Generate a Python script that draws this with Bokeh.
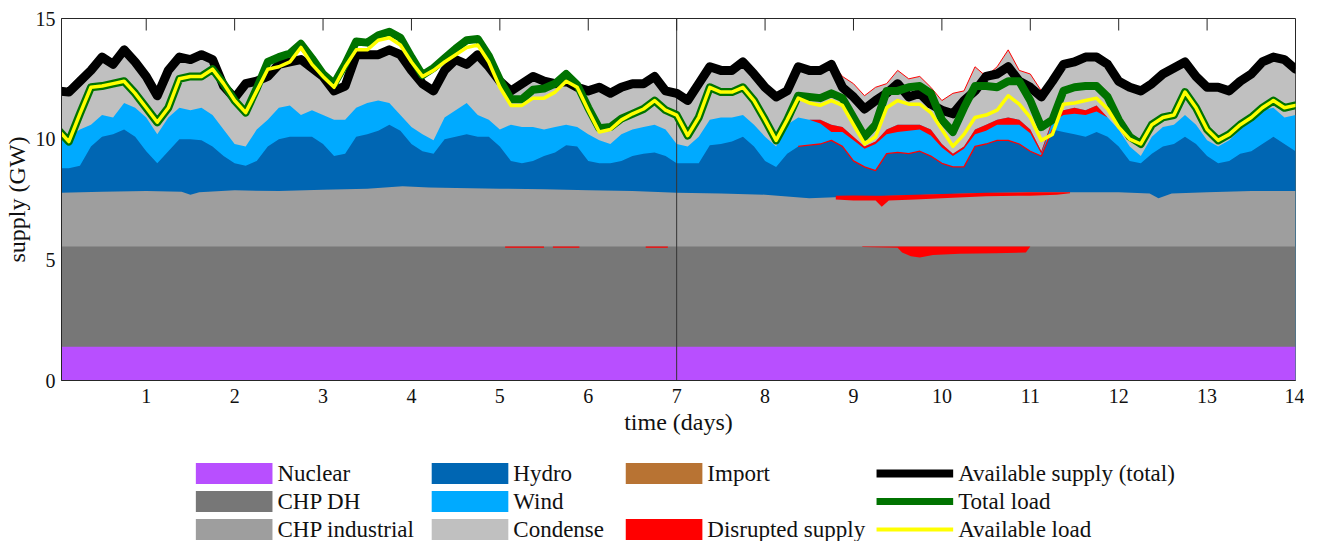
import numpy as np
from bokeh.plotting import figure
from bokeh.models import Range1d, FixedTicker
from bokeh.layouts import column
from bokeh.embed import file_html
from bokeh.resources import INLINE
from bokeh.core.properties import value

FONT = "Liberation Serif"

# ---------------- data (3-hourly samples, 0 .. 14 days) ----------------
days = [k / 8 for k in range(113)]

avail_supply = [12.0, 11.95, 12.4, 12.85, 13.4, 13.1, 13.7, 13.2, 12.6, 11.8, 12.85, 13.4, 13.3, 13.5, 13.3, 12.2,
                11.7, 12.3, 12.4, 12.6, 13.1, 13.2, 13.3, 12.95, 12.6, 12.0, 12.2, 13.5, 13.5, 13.5, 13.7, 13.5,
                12.85, 12.3, 12.0, 12.85, 13.3, 13.1, 13.5, 13.0, 12.4, 12.0, 12.3, 12.6, 12.4, 12.3, 12.4, 12.15,
                12.0, 12.15, 11.9, 12.15, 12.3, 12.3, 12.6, 12.0, 11.9, 11.6, 12.3, 13.0, 12.85, 12.85, 13.2, 12.7,
                12.15, 11.75, 12.0, 13.0, 12.85, 12.85, 13.1, 12.15, 11.75, 11.25, 11.6, 11.9, 12.3, 11.75, 11.9, 11.45,
                11.2, 11.05, 11.6, 12.0, 12.6, 12.7, 13.0, 12.4, 12.15, 11.75, 12.4, 13.1, 13.2, 13.4, 13.4, 13.1,
                12.4, 12.15, 12.0, 12.3, 12.7, 12.95, 13.2, 12.6, 12.15, 12.15, 12.0, 12.4, 12.7, 13.2, 13.4, 13.3,
                12.9]

total_load = [10.4, 9.9, 11.05, 12.15, 12.2, 12.3, 12.4, 11.9, 11.3, 10.7, 11.3, 12.5, 12.6, 12.6, 12.9, 12.3,
              11.6, 11.1, 12.1, 13.2, 13.4, 13.55, 13.95, 13.35, 12.7, 12.3, 13.1, 14.05, 14.0, 14.3, 14.45, 14.2,
              13.4, 12.65, 12.95, 13.35, 13.75, 14.1, 14.15, 13.45, 12.45, 11.65, 11.65, 12.05, 12.1, 12.3, 12.7, 12.25,
              11.3, 10.45, 10.5, 10.85, 11.05, 11.25, 11.6, 11.2, 11.0, 10.15, 10.9, 12.15, 11.95, 11.95, 12.15, 11.6,
              10.8, 9.95, 10.8, 11.8, 11.75, 11.7, 11.9, 11.7, 10.9, 10.1, 10.6, 12.0, 12.0, 12.15, 12.2, 11.9,
              10.8, 10.3, 11.3, 12.2, 12.2, 12.15, 12.4, 12.4, 11.6, 10.5, 10.8, 12.0, 12.15, 12.2, 12.2, 11.75,
              10.8, 10.1, 9.8, 10.6, 10.9, 11.0, 11.95, 11.3, 10.4, 9.95, 10.2, 10.6, 10.9, 11.3, 11.6, 11.3,
              11.4]

avail_load = [10.4, 9.9, 11.05, 12.15, 12.2, 12.3, 12.4, 11.9, 11.3, 10.7, 11.3, 12.5, 12.6, 12.6, 12.9, 12.3,
              11.6, 11.1, 12.0, 12.9, 13.0, 13.2, 13.8, 13.1, 12.6, 12.15, 13.0, 13.7, 13.7, 14.1, 14.2, 13.9,
              13.2, 12.6, 12.85, 13.2, 13.5, 13.8, 13.9, 13.2, 12.15, 11.4, 11.4, 11.7, 11.7, 11.95, 12.4, 12.15,
              11.2, 10.3, 10.4, 10.8, 11.05, 11.25, 11.6, 11.2, 11.0, 10.15, 10.9, 12.15, 11.95, 11.95, 12.15, 11.6,
              10.8, 9.95, 10.8, 11.7, 11.5, 11.4, 11.6, 11.4, 10.6, 9.8, 10.1, 11.3, 11.6, 11.45, 11.45, 11.1,
              10.4, 9.7, 10.2, 10.9, 11.0, 11.2, 11.8, 11.45, 10.9, 9.95, 10.2, 11.45, 11.5, 11.6, 11.7, 11.25,
              10.5, 10.0, 9.8, 10.6, 10.9, 11.0, 11.95, 11.3, 10.4, 9.95, 10.2, 10.6, 10.9, 11.3, 11.6, 11.3,
              11.4]

# cumulative top of each stacked layer (GW)
condense_top = [12.0, 11.95, 12.4, 12.85, 13.4, 13.1, 13.7, 13.2, 12.6, 11.8, 12.85, 13.4, 13.3, 13.5, 13.3, 12.2,
                11.7, 12.3, 12.4, 12.6, 13.1, 13.2, 13.3, 12.95, 12.6, 12.0, 12.2, 13.5, 13.5, 13.5, 13.7, 13.5,
                12.85, 12.3, 12.0, 12.85, 13.3, 13.1, 13.5, 13.0, 12.4, 12.0, 12.3, 12.6, 12.4, 12.3, 12.4, 12.15,
                12.0, 12.15, 11.9, 12.15, 12.3, 12.3, 12.6, 12.0, 11.9, 11.6, 12.3, 13.0, 12.85, 12.85, 13.2, 12.7,
                12.15, 11.75, 12.0, 13.0, 12.85, 13.0, 13.2, 12.6, 12.3, 11.8, 12.15, 12.3, 12.85, 12.5, 12.6, 12.15,
                11.6, 11.9, 12.0, 13.0, 12.6, 13.0, 13.7, 12.85, 12.7, 12.0, 12.5, 13.2, 13.3, 13.4, 13.4, 13.1,
                12.4, 12.15, 12.0, 12.3, 12.7, 12.95, 13.2, 12.6, 12.15, 12.15, 12.0, 12.4, 12.7, 13.2, 13.4, 13.3,
                12.9]

wind_top = [10.1, 10.1, 10.4, 10.6, 11.0, 10.9, 11.5, 11.3, 10.9, 10.2, 10.9, 11.3, 11.2, 11.3, 11.0, 10.4,
            9.8, 9.7, 10.4, 10.8, 11.3, 11.4, 11.0, 11.2, 11.0, 10.8, 10.8, 11.3, 11.5, 11.6, 11.5, 11.0,
            10.5, 10.2, 9.95, 10.9, 11.2, 11.5, 11.0, 10.8, 10.4, 10.6, 10.5, 10.5, 10.4, 10.5, 10.6, 10.5,
            10.2, 9.95, 9.8, 10.2, 10.4, 10.5, 10.6, 10.4, 9.8, 9.7, 10.1, 10.8, 10.9, 10.9, 11.0, 10.6,
            10.1, 9.7, 10.6, 10.9, 10.8, 10.8, 10.6, 10.5, 10.1, 9.7, 9.9, 10.4, 10.6, 10.6, 10.6, 10.4,
            9.8, 9.4, 9.7, 10.4, 10.6, 10.8, 10.9, 10.8, 10.4, 9.5, 10.8, 11.2, 11.3, 11.2, 11.4, 10.9,
            10.4, 9.7, 9.3, 10.1, 10.5, 10.6, 11.0, 10.6, 9.95, 9.7, 9.95, 10.4, 10.8, 11.2, 11.3, 10.9,
            11.0]

hydro_top = [8.8, 8.8, 8.9, 9.7, 10.1, 10.2, 10.4, 10.1, 9.5, 9.0, 9.5, 10.0, 10.0, 9.95, 9.7, 9.3,
             9.0, 8.9, 9.1, 9.7, 10.0, 10.1, 10.1, 10.1, 9.8, 9.3, 9.4, 10.1, 10.2, 10.35, 10.6, 10.35,
             9.8, 9.5, 9.4, 10.0, 10.1, 10.2, 10.1, 10.1, 9.7, 9.1, 9.0, 9.1, 9.3, 9.45, 9.75, 9.7,
             9.1, 9.0, 9.0, 9.1, 9.3, 9.4, 9.45, 9.3, 9.0, 9.0, 9.0, 9.75, 9.8, 9.9, 10.1, 9.7,
             9.1, 8.85, 9.4, 9.7, 9.75, 9.8, 9.95, 9.7, 9.1, 8.85, 8.7, 9.4, 9.45, 9.4, 9.5, 9.3,
             9.0, 8.85, 8.85, 9.7, 9.8, 9.95, 9.95, 9.8, 9.5, 9.3, 10.4, 10.3, 10.2, 10.1, 10.3, 10.1,
             9.7, 9.1, 9.0, 9.4, 9.7, 9.8, 10.1, 9.8, 9.3, 9.0, 9.1, 9.4, 9.5, 9.8, 10.1, 9.8,
             9.5]

ind_days = [0, 0.5, 1.0, 1.4, 1.5, 1.6, 2.0, 2.5, 3.0, 3.5, 3.9, 4.2, 4.5, 5.0, 5.5, 6.0, 6.5,
            7.0, 7.5, 8.0, 8.5, 9.0, 9.5, 10.0, 10.5, 11.0, 11.5, 12.0, 12.35, 12.45, 12.6, 13.0, 13.5, 14.0]
chp_ind_top = [7.78, 7.82, 7.85, 7.82, 7.7, 7.8, 7.88, 7.85, 7.9, 7.95, 8.05, 8.0, 7.98, 7.95, 7.92, 7.88, 7.85,
               7.78, 7.75, 7.7, 7.55, 7.62, 7.66, 7.72, 7.77, 7.8, 7.8, 7.8, 7.75, 7.55, 7.75, 7.8, 7.85, 7.85]
chp_dh_top = 5.55
nuclear_top = 1.4

# disrupted supply
dis_wind = [0.0, 0.15, 0.3, 0.2, 0.15, 0.1, 0.1, 0.2, 0.3, 0.25, 0.2, 0.25, 0.15, 0.1, 0.1, 0.2,
            0.25, 0.2, 0.3, 0.2, 0.15, 0.1, 0.1, 0.2, 0.25, 0.2, 0.25, 0.0]          # days[68:96]
dis_ind_days = [8.8, 9.0, 9.25, 9.32, 9.4, 9.7, 10.0, 10.5, 11.0, 11.3, 11.45]
dis_ind_hi = [7.66, 7.67, 7.66, 7.66, 7.67, 7.7, 7.73, 7.78, 7.8, 7.8, 7.8]
dis_ind_lo = [7.5, 7.46, 7.46, 7.2, 7.46, 7.5, 7.55, 7.63, 7.66, 7.7, 7.76]
dis_dh_days = [9.1, 9.5, 9.55, 9.65, 9.75, 9.9, 10.2, 10.6, 10.95, 11.0]
dis_dh_lo = [5.53, 5.5, 5.3, 5.15, 5.1, 5.2, 5.25, 5.27, 5.3, 5.55]
dis_dh_small_start = [5.06, 5.6, 6.65]
dis_dh_small_end = [5.5, 5.9, 6.9]
dis_dh_small = 0.05

x_ticks = list(range(1, 15))
y_ticks = [0, 5, 10, 15]
split_day = 7

C_NUC = "#B84FFF"
C_DH = "#777777"
C_IND = "#9E9E9E"
C_HYD = "#0066B3"
C_WIND = "#00AAFF"
C_COND = "#C0C0C0"
C_IMP = "#B87333"
C_DIS = "#FF0000"
C_SUP = "#000000"
C_LOAD = "#007300"
C_ALOAD = "#FFFF00"
AX = "#262626"

W = 1304
BL, BR = 55, 9
X0, X1 = 1 / 24, 14
Y0, Y1 = 0, 15
BT, BB = 18, 61
H_MAIN = BT + 362 + BB
H_LEG = 100

p = figure(width=W, height=H_MAIN, x_range=Range1d(X0, X1), y_range=Range1d(Y0, Y1),
           output_backend="svg", toolbar_location=None,
           min_border_left=BL, min_border_right=BR, min_border_top=BT, min_border_bottom=BB)
p.background_fill_color = "white"
p.border_fill_color = "white"
p.xgrid.visible = False
p.ygrid.visible = False
p.outline_line_color = AX
p.outline_line_width = 1

# stacked layers (painted from the top layer downwards)
p.varea(x=days, y1=0, y2=condense_top, fill_color=C_COND)
p.varea(x=days, y1=0, y2=wind_top, fill_color=C_WIND)
p.varea(x=days, y1=0, y2=hydro_top, fill_color=C_HYD)
p.varea(x=ind_days, y1=0, y2=chp_ind_top, fill_color=C_IND)
p.varea(x=[0, 14], y1=0, y2=[chp_dh_top, chp_dh_top], fill_color=C_DH)
p.varea(x=[0, 14], y1=0, y2=[nuclear_top, nuclear_top], fill_color=C_NUC)

# disrupted supply
wt = np.array(wind_top[68:96])
p.varea(x=days[68:96], y1=wt - np.array(dis_wind), y2=wt, fill_color=C_DIS)
p.line(days[67:91], hydro_top[67:91], line_color=C_DIS, line_width=1.3)
p.line(days[68:96], condense_top[68:96], line_color=C_DIS, line_width=1)
p.varea(x=dis_ind_days, y1=dis_ind_lo, y2=dis_ind_hi, fill_color=C_DIS)
p.varea(x=dis_dh_days, y1=dis_dh_lo, y2=[chp_dh_top] * len(dis_dh_days), fill_color=C_DIS)
p.quad(left=dis_dh_small_start, right=dis_dh_small_end,
       bottom=chp_dh_top - dis_dh_small, top=chp_dh_top, fill_color=C_DIS, line_color=None)

p.segment(x0=[split_day], y0=[Y0], x1=[split_day], y1=[Y1], line_color="#333333", line_width=1)

p.line(days, avail_supply, line_color=C_SUP, line_width=9, line_join="round", line_cap="round")
p.line(days, total_load, line_color=C_LOAD, line_width=8, line_join="round", line_cap="round")
p.line(days, avail_load, line_color=C_ALOAD, line_width=3.5, line_join="round", line_cap="round")

# inward tick marks along the top edge (12 px long)
tick_len = 12 * (Y1 - Y0) / 362
p.segment(x0=x_ticks, y0=[Y1] * len(x_ticks), x1=x_ticks, y1=[Y1 - tick_len] * len(x_ticks),
          line_color=AX, line_width=1)

# axes
for ax in (p.xaxis[0], p.yaxis[0]):
    ax.major_tick_in = 0
    ax.major_tick_out = 0
    ax.minor_tick_in = 0
    ax.minor_tick_out = 0
    ax.axis_line_color = AX
    ax.major_label_text_font = FONT
    ax.major_label_text_font_size = "20px"
    ax.major_label_text_color = "#111111"
    ax.axis_label_text_font = FONT
    ax.axis_label_text_font_size = "24px"
    ax.axis_label_text_font_style = "normal"
    ax.axis_label_text_color = "#111111"
p.xaxis.ticker = FixedTicker(ticks=x_ticks)
p.yaxis.ticker = FixedTicker(ticks=y_ticks)
p.xaxis.axis_label = "time (days)"
p.yaxis.axis_label = "supply (GW)"
p.xaxis.major_label_standoff = 8
p.xaxis.axis_label_standoff = 3
p.yaxis.major_label_standoff = 6
p.yaxis.axis_label_standoff = 3

# ---------------- legend (panel below, coordinates in page pixels) ----------------
leg_patch_labels = ["Nuclear", "CHP DH", "CHP industrial", "Hydro", "Wind", "Condense", "Import", "Disrupted supply"]
leg_patch_colors = [C_NUC, C_DH, C_IND, C_HYD, C_WIND, C_COND, C_IMP, C_DIS]
leg_patch_col = [0, 0, 0, 1, 1, 1, 2, 2]
leg_patch_row = [0, 1, 2, 0, 1, 2, 0, 2]
leg_line_labels = ["Available supply (total)", "Total load", "Available load"]
leg_line_colors = [C_SUP, C_LOAD, C_ALOAD]
leg_line_widths = [8, 7, 4]

col_x = [198, 435, 630, 882]      # swatch left edges (page px)
row_y = [32, 60, 88]              # row centres inside the legend panel
sw_w, sw_h, gap = 77, 21, 5

frame_l, frame_r = 8 + BL, 8 + W - BR
lg = figure(width=W, height=H_LEG, x_range=Range1d(frame_l, frame_r), y_range=Range1d(H_LEG, 0),
            output_backend="svg", toolbar_location=None,
            min_border_left=BL, min_border_right=BR, min_border_top=0, min_border_bottom=0,
            x_axis_type=None, y_axis_type=None)
lg.outline_line_color = None
lg.xgrid.visible = False
lg.ygrid.visible = False
lg.background_fill_color = "white"
lg.border_fill_color = "white"

px = [col_x[c] + sw_w / 2 for c in leg_patch_col]
py = [row_y[r] for r in leg_patch_row]
lg.rect(x=px, y=py, width=sw_w, height=sw_h, fill_color=leg_patch_colors, line_color=None)
lg.text(x=[col_x[c] + sw_w + gap for c in leg_patch_col], y=py, text=leg_patch_labels,
        text_font=value(FONT), text_font_size="23px", text_baseline="middle", text_color="#111111")
for colr, w, r in zip(leg_line_colors, leg_line_widths, row_y):
    lg.line(x=[col_x[3], col_x[3] + sw_w], y=[r, r], line_color=colr, line_width=w)
lg.text(x=[col_x[3] + sw_w + gap] * 3, y=row_y, text=leg_line_labels,
        text_font=value(FONT), text_font_size="23px", text_baseline="middle", text_color="#111111")

layout = column(p, lg, spacing=0)
open("out.html", "w").write(file_html(layout, INLINE))
